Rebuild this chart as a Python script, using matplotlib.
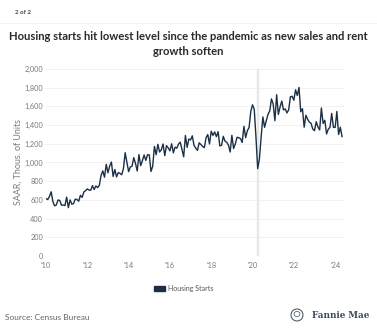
import matplotlib.pyplot as plt
import matplotlib.patches as mpatches
import numpy as np

# Monthly housing starts, SAAR, thousands of units (Jan 2010 - May 2024)
starts_2010 = [614, 604, 636, 687, 583, 536, 546, 599, 594, 543, 545, 539]
starts_2011 = [630, 517, 600, 554, 561, 608, 604, 586, 649, 627, 685, 699]
starts_2012 = [717, 705, 703, 752, 711, 749, 731, 757, 863, 910, 843, 981]
starts_2013 = [890, 962, 1005, 851, 925, 846, 892, 883, 869, 936, 1105, 1003]
starts_2014 = [902, 952, 960, 1052, 989, 909, 1085, 966, 1018, 1080, 1022, 1083]
starts_2015 = [1082, 904, 960, 1172, 1083, 1194, 1112, 1136, 1198, 1073, 1180, 1157]
starts_2016 = [1124, 1200, 1103, 1164, 1153, 1197, 1217, 1139, 1061, 1289, 1162, 1251]
starts_2017 = [1241, 1285, 1183, 1153, 1129, 1211, 1192, 1172, 1159, 1265, 1299, 1198]
starts_2018 = [1334, 1290, 1327, 1276, 1329, 1177, 1184, 1280, 1228, 1217, 1187, 1112]
starts_2019 = [1291, 1149, 1199, 1270, 1264, 1256, 1215, 1386, 1266, 1340, 1375, 1548]
starts_2020 = [1617, 1567, 1269, 934, 1038, 1273, 1487, 1376, 1448, 1514, 1552, 1680]
starts_2021 = [1625, 1447, 1725, 1514, 1594, 1657, 1562, 1573, 1530, 1563, 1703, 1708]
starts_2022 = [1666, 1777, 1716, 1803, 1543, 1575, 1377, 1505, 1463, 1432, 1419, 1357]
starts_2023 = [1340, 1436, 1380, 1348, 1583, 1418, 1451, 1305, 1356, 1376, 1525, 1376]
starts_2024 = [1375, 1546, 1299, 1377, 1277]

starts = (starts_2010 + starts_2011 + starts_2012 + starts_2013 + starts_2014
          + starts_2015 + starts_2016 + starts_2017 + starts_2018 + starts_2019
          + starts_2020 + starts_2021 + starts_2022 + starts_2023 + starts_2024)
months = 2010 + np.arange(len(starts)) / 12

tick_years = [2010, 2012, 2014, 2016, 2018, 2020, 2022, 2024]
tick_labels = ["'10", "'12", "'14", "'16", "'18", "'20", "'22", "'24"]
y_ticks = [0, 200, 400, 600, 800, 1000, 1200, 1400, 1600, 1800, 2000]
pandemic = 2020 + 3 / 12

navy = "#1c2f44"
gray_txt = "#7a7a7a"

plt.rcParams['font.family'] = ['Lato', 'DejaVu Sans']

fig = plt.figure(figsize=(3.77, 3.31), dpi=100)
ax = fig.add_axes([0.122, 0.2266, 0.79, 0.565])

ax.axvline(pandemic, color="#e8e8e8", lw=1.7, zorder=1)
ax.plot(months, starts, color=navy, lw=1.0, zorder=3)

ax.set_xlim(2010, 2024.42)
ax.set_ylim(0, 2000)
ax.set_yticks(y_ticks)
ax.set_yticklabels([f"{v:,}" for v in y_ticks])
ax.set_xticks(tick_years)
ax.set_xticklabels(tick_labels)
ax.grid(axis="y", color="#efefef", lw=0.6)
ax.set_axisbelow(True)
for s in ax.spines.values():
    s.set_visible(False)
ax.tick_params(length=0, labelsize=5.3, colors=gray_txt, pad=2)
ax.tick_params(axis="x", pad=4)
ax.set_ylabel("SAAR, Thous. of Units", fontsize=6.4, color=gray_txt, labelpad=1)

# header
fig.text(0.5, 0.891, "Housing starts hit lowest level since the pandemic as new sales and rent",
         ha="center", va="center", fontsize=8.1, fontweight="bold", color="#2a2a2a")
fig.text(0.5, 0.843, "growth soften", ha="center", va="center",
         fontsize=8.1, fontweight="bold", color="#2a2a2a")
fig.text(15 / 377, 0.962, "2 of 2", ha="left", va="center", fontsize=4.4,
         fontweight="bold", color="#444444")
fig.add_artist(plt.Line2D([0.0, 1.0], [0.93, 0.93], color="#f2f2f2", lw=0.6))

# legend
fig.add_artist(mpatches.Rectangle((154 / 377, 1 - 291 / 331), 11 / 377, 5 / 331,
                                  color=navy, transform=fig.transFigure))
fig.text(168 / 377, 1 - 288 / 331, "Housing Starts", ha="left", va="center",
         fontsize=5.0, color="#555555")

# footer
fig.text(5 / 377, 1 - 318 / 331, "Source: Census Bureau", ha="left", va="center",
         fontsize=6.0, color="#666666")
logo = "#3a4a5e"
fig.add_artist(mpatches.Ellipse((297 / 377, 1 - 315 / 331), 12 / 377, 12 / 331,
                                fill=False, ec=logo, lw=0.7, transform=fig.transFigure))
fig.add_artist(mpatches.Ellipse((297 / 377, 1 - 314 / 331), 6 / 377, 5 / 331,
                                fill=False, ec=logo, lw=0.5, transform=fig.transFigure))
fig.text(312 / 377, 1 - 315 / 331, "Fannie Mae", ha="left", va="center",
         fontsize=6.3, fontweight="bold", color=logo, family=["DejaVu Serif"])

fig.savefig("out.png", dpi=100, facecolor="white")
